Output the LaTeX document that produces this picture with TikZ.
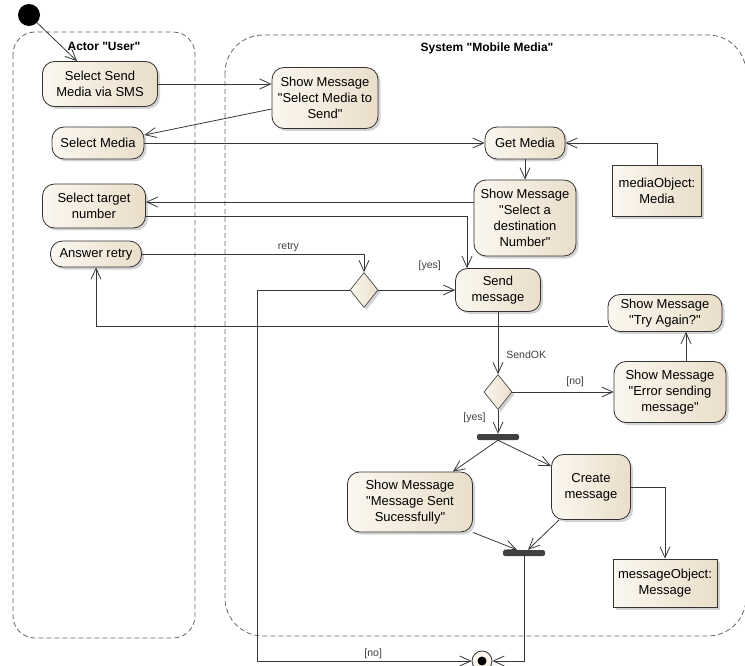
\documentclass[tikz,border=0pt]{standalone}
\usepackage{fontspec}
\setmainfont{Liberation Sans}[Ligatures=TeXOff]
\usetikzlibrary{arrows.meta,shapes.geometric,shadows}
\definecolor{actfill}{RGB}{251,247,239}
\definecolor{actshade}{RGB}{234,222,202}
\definecolor{edgegray}{RGB}{55,55,55}
\tikzset{
  act/.style={rectangle, rounded corners=12pt, draw=black!80, line width=0.8pt,
    left color=actfill, right color=actshade,
    drop shadow={shadow xshift=2.5pt, shadow yshift=-2.5pt, opacity=0.35},
    align=center, inner sep=1pt, font=\fontsize{13}{16}\selectfont},
  obj/.style={act, sharp corners},
  decision/.style={diamond, draw=black!80, line width=0.6pt, left color=actfill, right color=actshade,
    drop shadow={shadow xshift=2.5pt, shadow yshift=-2.5pt, opacity=0.35},
    inner sep=0pt, minimum width=28pt, minimum height=35pt},
  bar/.style={rectangle, rounded corners=2pt, fill=black!75, minimum width=42pt, minimum height=6pt, inner sep=0pt},
  flow/.style={draw=edgegray, line width=0.8pt, ->},
  lbl/.style={font=\fontsize{10.5}{12}\selectfont, text=black!75, inner sep=2pt},
  lane/.style={draw=black!60, dash pattern=on 5pt off 3pt, line width=0.8pt},
  lanetitle/.style={font=\bfseries\fontsize{12}{14}\selectfont}
}
\begin{document}
\begin{tikzpicture}[x=1pt, y=-1pt, >={Straight Barb[length=11pt,width=10pt]}]
\useasboundingbox (0,0) rectangle (745,666);
\draw[lane, rounded corners=22pt] (13,32) rectangle (195,638);
\draw[lane, rounded corners=38pt] (225,35) rectangle (746,636);
\node[lanetitle] (actorTitle) at (104,46) {Actor "User"};
\node[lanetitle] (systemTitle) at (487,48) {System "Mobile Media"};

\node[circle, fill=black, minimum size=22pt, inner sep=0pt] (init) at (29,15) {};
\node[act, minimum width=115pt, minimum height=45pt] (sendSms) at (100,84) {Select Send\\Media via SMS};
\node[act, minimum width=106pt, minimum height=61pt] (showSelMedia) at (325,98) {Show Message\\"Select Media to\\Send"};
\node[act, minimum width=92pt, minimum height=32pt] (selMedia) at (98,143) {Select Media};
\node[act, minimum width=103pt, minimum height=44pt] (selTarget) at (94,206) {Select target\\number};
\node[act, minimum width=91pt, minimum height=26pt] (answerRetry) at (96,254) {Answer retry};
\node[act, minimum width=80pt, minimum height=32pt] (getMedia) at (525,143) {Get Media};
\node[act, minimum width=102pt, minimum height=76pt] (showDest) at (525,218) {Show Message\\"Select a\\destination\\Number"};
\node[obj, minimum width=89pt, minimum height=51pt] (mediaObj) at (657,191) {mediaObject:\\Media};
\node[act, minimum width=85pt, minimum height=43pt] (sendMsg) at (498,290) {Send\\message};
\node[decision] (decRetry) at (364,290) {};
\node[act, minimum width=114pt, minimum height=37pt] (tryAgain) at (665,313) {Show Message\\"Try Again?"};
\node[act, minimum width=112pt, minimum height=61pt] (errSend) at (670,392) {Show Message\\"Error sending\\message"};
\node[decision] (decOk) at (498,392) {};
\node[bar] (fork) at (498,437) {};
\node[act, minimum width=125pt, minimum height=60pt] (showSent) at (410,502) {Show Message\\"Message Sent\\Sucessfully"};
\node[act, minimum width=79pt, minimum height=65pt] (createMsg) at (591,487) {Create\\message};
\node[bar] (join) at (524,553) {};
\node[obj, minimum width=104pt, minimum height=48pt] (msgObj) at (665,583) {messageObject:\\Message};
\node[circle, draw=black!80, line width=0.8pt, fill=actfill, minimum size=20pt, inner sep=0pt] (final) at (482,661) {};
\fill (final) circle (4.5pt);

\draw[flow] (init) -- ([xshift=-23pt]sendSms.north);
\draw[flow] (sendSms.east) -- (sendSms.east -| showSelMedia.west);
\draw[flow] ([yshift=-11pt]showSelMedia.west) -- ([yshift=8pt]selMedia.east);
\draw[flow] (selMedia.east) -- (selMedia.east -| getMedia.west);
\draw[flow] (mediaObj.north) |- (getMedia.east);
\draw[flow] (getMedia) -- (showDest);
\draw[flow] ([yshift=16pt]showDest.west) -- ([yshift=16pt]showDest.west -| selTarget.east);
\draw[flow] ([yshift=-10pt]selTarget.east) -| ([xshift=-31pt]sendMsg.north);
\draw[flow] (answerRetry.east) -| node[lbl, pos=0.33, above] {retry} (decRetry.north);
\draw[flow] (decRetry.east) -- node[lbl, pos=0.67, above=17pt] {[yes]} (sendMsg.west);
\draw[flow] (decRetry.west) -- ++(-92,0) |- node[lbl, pos=0.77, above] {[no]} (final.west);
\draw[flow] (sendMsg.south) -- node[lbl, pos=0.68, right=6pt] {SendOK} (decOk.north);
\draw[flow] (decOk.east) -- node[lbl, pos=0.62, above=3pt] {[no]} (errSend.west);
\draw[flow] ([xshift=16pt]errSend.north) -- ([xshift=16pt]errSend.north |- tryAgain.south);
\draw[flow] ([yshift=-13pt]tryAgain.west) -| (answerRetry.south);
\draw[flow] (decOk.south) -- node[lbl, pos=0.33, left=10pt] {[yes]} (fork.north);
\draw[flow] (fork.south) -- ([xshift=-20pt]showSent.north east);
\draw[flow] (fork.south) -- ([yshift=-12pt]createMsg.north west);
\draw[flow] (showSent.south east) -- ([xshift=-7pt]join.north);
\draw[flow] ([xshift=8pt]createMsg.south west) -- ([xshift=4pt]join.north);
\draw[flow] (createMsg.east) -| (msgObj.north);
\draw[flow] (join.south) |- (final.east);
\end{tikzpicture}
\end{document}
